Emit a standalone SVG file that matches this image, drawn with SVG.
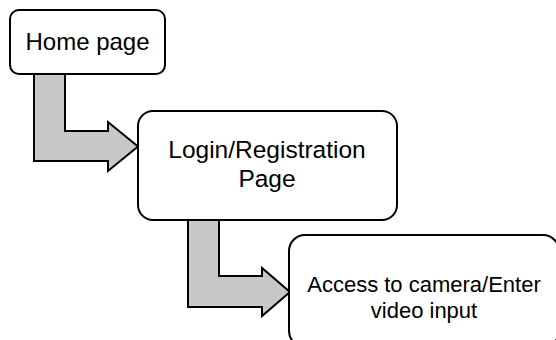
<svg xmlns="http://www.w3.org/2000/svg" width="556" height="340" viewBox="0 0 556 340">
<style>
.box{fill:#fff;stroke:#000;stroke-width:2}
.arr{fill:#c8c8c8;stroke:#000;stroke-width:2;stroke-linejoin:miter}
.t{font-family:"Liberation Sans",Arial,sans-serif;fill:#000;text-anchor:middle}
</style>
<rect width="556" height="340" fill="#fff"/>
<g id="connectors">
<path class="arr" d="M34,74 H65 V131 H108 V122 L138,146.5 L108,171 V161 H34 Z"/>
<path class="arr" d="M188,220 H219 V276 H262 V268 L290,292 L262,316 V307 H188 Z"/>
</g>
<g id="home">
<rect class="box" x="10" y="10" width="155" height="64" rx="9"/>
<text class="t" x="87.5" y="50" font-size="24">Home page</text>
</g>
<g id="login">
<rect class="box" x="138" y="111" width="259" height="109" rx="15"/>
<text class="t" x="267" y="158" font-size="24.5">Login/Registration</text>
<text class="t" x="267" y="187" font-size="24.5">Page</text>
</g>
<g id="access">
<rect class="box" x="289" y="235" width="270" height="112" rx="16"/>
<text class="t" x="424" y="292" font-size="22">Access to camera/Enter</text>
<text class="t" x="424" y="318" font-size="22">video input</text>
</g>
</svg>
